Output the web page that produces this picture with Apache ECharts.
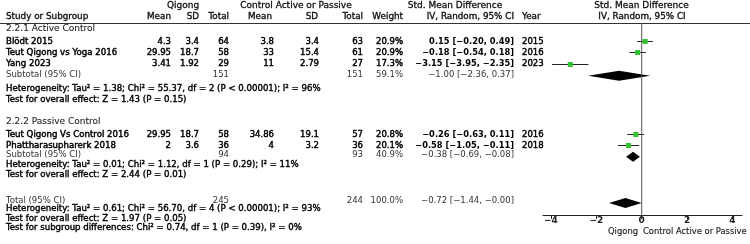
<!DOCTYPE html>
<html><head><meta charset="utf-8">
<script src="https://cdn.jsdelivr.net/npm/echarts@6/dist/echarts.min.js"></script>
<style>html,body{margin:0;padding:0;background:#fff}#c{width:750px;height:244px}</style>
</head><body><div id="c"></div>
<script>
// ---------- data ----------
const studyNames = ['Blödt 2015','Teut Qigong vs Yoga 2016','Yang 2023','Teut Qigong Vs Control 2016','Phattharasupharerk 2018'];
const qigongMean = [4.3,29.95,3.41,29.95,2];
const qigongSD = [3.4,18.7,1.92,18.7,3.6];
const qigongN = [64,58,29,58,36];
const controlMean = [3.8,33,11,34.86,4];
const controlSD = [3.4,15.4,2.79,19.1,3.2];
const controlN = [63,61,27,57,36];
const weights = [20.9,20.9,17.3,20.8,20.1];
const smd = [0.15,-0.18,-3.15,-0.26,-0.58];
const ciLow = [-0.20,-0.54,-3.95,-0.63,-1.05];
const ciHigh = [0.49,0.18,-2.35,0.11,-0.11];
const years = [2015,2016,2023,2016,2018];

const groupNames = ['2.2.1 Active Control','2.2.2 Passive Control'];
const groupQigongN = [151,94];
const groupControlN = [151,93];
const groupWeight = [59.1,40.9];
const groupSmd = [-1.00,-0.38];
const groupLow = [-2.36,-0.69];
const groupHigh = [0.37,-0.08];
const groupHet = ['Heterogeneity: Tau² = 1.38; Chi² = 55.37, df = 2 (P < 0.00001); I² = 96%',
                  'Heterogeneity: Tau² = 0.01; Chi² = 1.12, df = 1 (P = 0.29); I² = 11%'];
const groupTest = ['Test for overall effect: Z = 1.43 (P = 0.15)','Test for overall effect: Z = 2.44 (P = 0.01)'];

const totalQigongN = 245;
const totalControlN = 244;
const totalWeight = 100.0;
const totalSmd = -0.72;
const totalLow = -1.44;
const totalHigh = -0.00;
const totalHet = 'Heterogeneity: Tau² = 0.61; Chi² = 56.70, df = 4 (P < 0.00001); I² = 93%';
const totalTest = 'Test for overall effect: Z = 1.97 (P = 0.05)';
const subgroupTest = 'Test for subgroup differences: Chi² = 0.74, df = 1 (P = 0.39), I² = 0%';
const axisTicks = [-4,-2,0,2,4];
const favoursLeft = 'Qigong';
const favoursRight = 'Control Active or Passive';

// ---------- layout ----------
const L = {
  studyTextY: [42,53,64,135,146],
  studyPlotY: [41,52.3,63.7,134,145.3],
  groupTitleY: [29,122],
  subTextY: [75,155],
  subPlotY: [75.7,156.7],
  hetY: [89,165], testY: [100,175],
  totalTextY: 200.5, totalPlotY: 203,
  totHetY: 209, totTestY: 218.5, subgTestY: 228,
  col: {name:6, qMean:171, qSD:199, qN:229, cMean:274, cSD:319, cN:363, w:403, ci:514, year:522}
};
const FONT = '"DejaVu Sans", Verdana, sans-serif';
const STY = {
  h1:   {size:9,   weight:'normal', stroke:0.3,  color:'#111'},
  h2:   {size:8.8, weight:'normal', stroke:0.35, color:'#111'},
  grp:  {size:9,   weight:'normal', stroke:0.1,  color:'#222'},
  name: {size:8.6, weight:'normal', stroke:0.45, color:'#000'},
  num:  {size:8.5, weight:'normal', stroke:0.45, color:'#000'},
  ci:   {size:8.3, weight:'bold',   stroke:0,    color:'#000'},
  sub:  {size:8.5, weight:'normal', stroke:0,    color:'#333'},
  foot: {size:8.6, weight:'normal', stroke:0.4,  color:'#000'},
  fav:  {size:8.4, weight:'normal', stroke:0.15, color:'#222'}
};
const fmt2 = v => ((v < 0 || Object.is(v,-0)) ? '\u2212' : '') + Math.abs(v).toFixed(2);
const ciStr = (e,l,h) => fmt2(e) + ' [' + fmt2(l) + ', ' + fmt2(h) + ']';
const pct = v => v.toFixed(1) + '%';

const G = [];
function T(x, y, text, align, cls) {
  const s = STY[cls];
  G.push({type:'text', x:x, y:y, silent:true,
    style:{text:String(text), x:0, y:0, align:align, verticalAlign:'middle',
      font: s.weight + ' ' + s.size + 'px ' + FONT, fill: s.color,
      stroke: s.stroke ? s.color : null, lineWidth: s.stroke}});
}
const c = L.col;
// headers
T(183,6,'Qigong','center','h1');
T(296,6,'Control Active or Passive','center','h1');
T(455,6,'Std. Mean Difference','center','h1');
T(641.5,6,'Std. Mean Difference','center','h1');
T(c.name,17,'Study or Subgroup','left','h2');
T(c.qMean,17,'Mean','right','h2'); T(c.qSD,17,'SD','right','h2'); T(c.qN,17,'Total','right','h2');
T(272,17,'Mean','right','h2'); T(318,17,'SD','right','h2'); T(c.cN,17,'Total','right','h2');
T(c.w,17,'Weight','right','h2'); T(c.ci,17,'IV, Random, 95% CI','right','h2'); T(c.year,17,'Year','left','h2');
T(642,17,'IV, Random, 95% CI','center','h2');
G.push({type:'line', silent:true, shape:{x1:0,y1:23.5,x2:750,y2:23.5}, style:{stroke:'#333', lineWidth:1}});

// studies
studyNames.forEach((n,i) => {
  const y = L.studyTextY[i];
  T(c.name,y,n,'left','name');
  T(c.qMean,y,qigongMean[i],'right','num');
  T(c.qSD,y,qigongSD[i],'right','num');
  T(c.qN,y,qigongN[i],'right','num');
  T(c.cMean,y,controlMean[i],'right','num');
  T(c.cSD,y,controlSD[i],'right','num');
  T(c.cN,y,controlN[i],'right','num');
  T(c.w,y,pct(weights[i]),'right','num');
  T(c.ci,y,ciStr(smd[i],ciLow[i],ciHigh[i]),'right','ci');
  T(c.year,y,years[i],'left','num');
});
// groups
groupNames.forEach((g,k) => {
  T(c.name,L.groupTitleY[k],g,'left','grp');
  const y = L.subTextY[k];
  T(c.name,y,'Subtotal (95% CI)','left','sub');
  T(c.qN,y,groupQigongN[k],'right','sub');
  T(c.cN,y,groupControlN[k],'right','sub');
  T(c.w,y,pct(groupWeight[k]),'right','sub');
  T(c.ci,y,ciStr(groupSmd[k],groupLow[k],groupHigh[k]),'right','sub');
  T(c.name,L.hetY[k],groupHet[k],'left','foot');
  T(c.name,L.testY[k],groupTest[k],'left','foot');
});
// total
T(c.name,L.totalTextY,'Total (95% CI)','left','sub');
T(c.qN,L.totalTextY,totalQigongN,'right','sub');
T(c.cN,L.totalTextY,totalControlN,'right','sub');
T(c.w,L.totalTextY,pct(totalWeight),'right','sub');
T(c.ci,L.totalTextY,ciStr(totalSmd,totalLow,totalHigh),'right','sub');
T(c.name,L.totHetY,totalHet,'left','foot');
T(c.name,L.totTestY,totalTest,'left','foot');
T(c.name,L.subgTestY,subgroupTest,'left','foot');
// favours
T(638,232,favoursLeft,'right','fav');
T(643,232,favoursRight,'left','fav');

const studyData = studyNames.map((n,i) => [ciLow[i], ciHigh[i], smd[i], L.studyPlotY[i]]);
const diamondData = groupNames.map((g,k) => [groupLow[k], groupHigh[k], groupSmd[k], L.subPlotY[k]])
  .concat([[totalLow, totalHigh, totalSmd, L.totalPlotY]]);
const zeroLine = [[0, 23.5], [0, 215]];

const chart = echarts.init(document.getElementById('c'), null, {renderer:'canvas'});
chart.setOption({
  animation:false,
  grid:{left:543, right:8, top:0, bottom:29},
  xAxis:{type:'value', min:-4.352, max:4.422, position:'bottom',
    axisLine:{show:true, onZero:false, lineStyle:{color:'#222', width:1}},
    axisTick:{show:true, customValues:axisTicks, length:4, lineStyle:{color:'#222'}},
    axisLabel:{customValues:axisTicks, margin:1, fontSize:9, fontFamily:FONT, fontWeight:'bold', color:'#222',
      formatter: v => v < 0 ? '\u2212' + Math.abs(v) : String(v)},
    splitLine:{show:false}},
  yAxis:{type:'value', min:0, max:215, inverse:true, show:false,
    axisLine:{show:false, onZero:false}, axisTick:{show:false}, axisLabel:{show:false}, splitLine:{show:false}},
  graphic: G,
  series:[
    {type:'line', silent:true, data:zeroLine, symbol:'none', lineStyle:{color:'#555', width:1}},
    {type:'custom', silent:true, data:studyData, encode:{x:[0,1,2], y:3},
      renderItem:(p,api) => {
        const y = api.value(3);
        const lo = api.coord([api.value(0), y]), hi = api.coord([api.value(1), y]), m = api.coord([api.value(2), y]);
        const yy = Math.round(lo[1]) + 0.5;
        return {type:'group', children:[
          {type:'line', shape:{x1:lo[0],y1:yy,x2:hi[0],y2:yy}, style:{stroke:'#222', lineWidth:1}},
          {type:'rect', shape:{x:m[0]-2.5,y:yy-2.5,width:5,height:5}, style:{fill:'#33c433'}}
        ]};
      }},
    {type:'custom', silent:true, data:diamondData, encode:{x:[0,1,2], y:3},
      renderItem:(p,api) => {
        const y = api.value(3);
        const lo = api.coord([api.value(0), y]), hi = api.coord([api.value(1), y]), m = api.coord([api.value(2), y]);
        return {type:'polygon', shape:{points:[[lo[0],lo[1]],[m[0],m[1]-5],[hi[0],hi[1]],[m[0],m[1]+5]]},
          style:{fill:'#000'}};
      }}
  ]
});
</script></body></html>
